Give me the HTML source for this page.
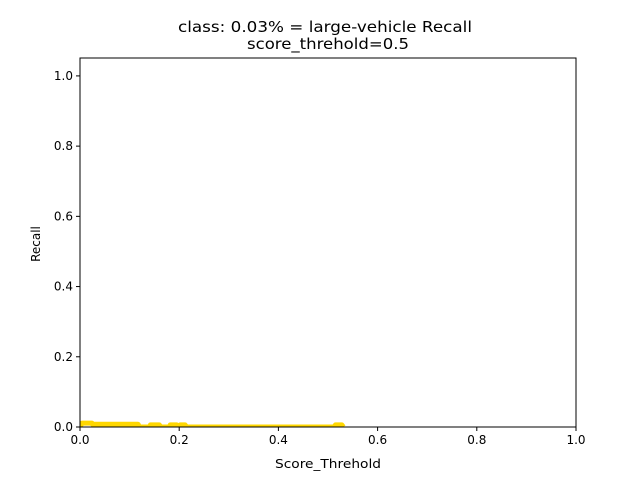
<!DOCTYPE html>
<html><head><meta charset="utf-8"><style>
body{margin:0;background:#fff;}
svg text{font-family:"DejaVu Sans","Liberation Sans",sans-serif;fill:#000;}
</style></head><body>
<svg id="chart" width="640" height="480">
<rect width="640" height="480" fill="#fff"/>
<text x="325" y="32" font-size="15.5" text-anchor="middle" textLength="294" lengthAdjust="spacingAndGlyphs">class: 0.03% = large-vehicle Recall</text>
<text x="328" y="49" font-size="15.5" text-anchor="middle" textLength="162" lengthAdjust="spacingAndGlyphs">score_threhold=0.5</text>
<g id="plot"></g>
<rect x="80" y="58" width="496" height="369" fill="none" stroke="#000" stroke-width="1"/>
<text x="328" y="468" font-size="12.5" text-anchor="middle" textLength="106" lengthAdjust="spacingAndGlyphs">Score_Threhold</text>
<text x="40" y="244" font-size="12" text-anchor="middle" transform="rotate(-90 40 244)">Recall</text>
</svg>
<script>
const xTicks=[0,0.2,0.4,0.6,0.8,1.0];
const xTickLabels=["0.0","0.2","0.4","0.6","0.8","1.0"];
const yTicks=[0,0.2,0.4,0.6,0.8,1.0];
const yTickLabels=["0.0","0.2","0.4","0.6","0.8","1.0"];
const scores=[0,0.004,0.024,0.025,0.117,0.12,0.14,0.142,0.16,0.163,0.18,0.182,0.195,0.198,0.2,0.202,0.212,0.215,0.512,0.515,0.528,0.531];
const recall=[0.0,0.011,0.011,0.008,0.008,0,0,0.006,0.006,0,0,0.006,0.006,0,0,0.006,0.006,0,0,0.006,0.006,0];
const X0=80,X1=576,Y0=427,YMAX=1.051;
const sx=v=>X0+v*(X1-X0);
const sy=v=>Y0-v*(Y0-58)/YMAX;
const NS="http://www.w3.org/2000/svg";
const g=document.getElementById('plot');
function mk(t,a){const e=document.createElementNS(NS,t);for(const k in a)e.setAttribute(k,a[k]);g.appendChild(e);return e;}
const clip=document.createElementNS(NS,'clipPath');clip.setAttribute('id','cp');
const cr=document.createElementNS(NS,'rect');cr.setAttribute('x',X0);cr.setAttribute('y',58);cr.setAttribute('width',X1-X0);cr.setAttribute('height',Y0-58);
clip.appendChild(cr);g.appendChild(clip);
xTicks.forEach((v,i)=>{
 const l=mk('line',{x1:sx(v),x2:sx(v),y1:Y0,y2:Y0+4,stroke:'#000'});
 
 
 const t=mk('text',{x:sx(v),y:Y0+17,'font-size':12,'text-anchor':'middle'});t.textContent=xTickLabels[i];
 
 
});
yTicks.forEach((v,i)=>{
 const l=mk('line',{x1:X0-4,x2:X0,y1:sy(v),y2:sy(v),stroke:'#000'});
 
 
 const t=mk('text',{x:X0-7,y:sy(v)+4,'font-size':12,'text-anchor':'end'});t.textContent=yTickLabels[i];
 
 
});
const p=mk('polyline',{points:scores.map((s,i)=>sx(s)+','+sy(recall[i])).join(' '),fill:'none',stroke:'#FFD700','stroke-width':5,'stroke-linejoin':'round','clip-path':'url(#cp)'});


</script>
</body></html>
